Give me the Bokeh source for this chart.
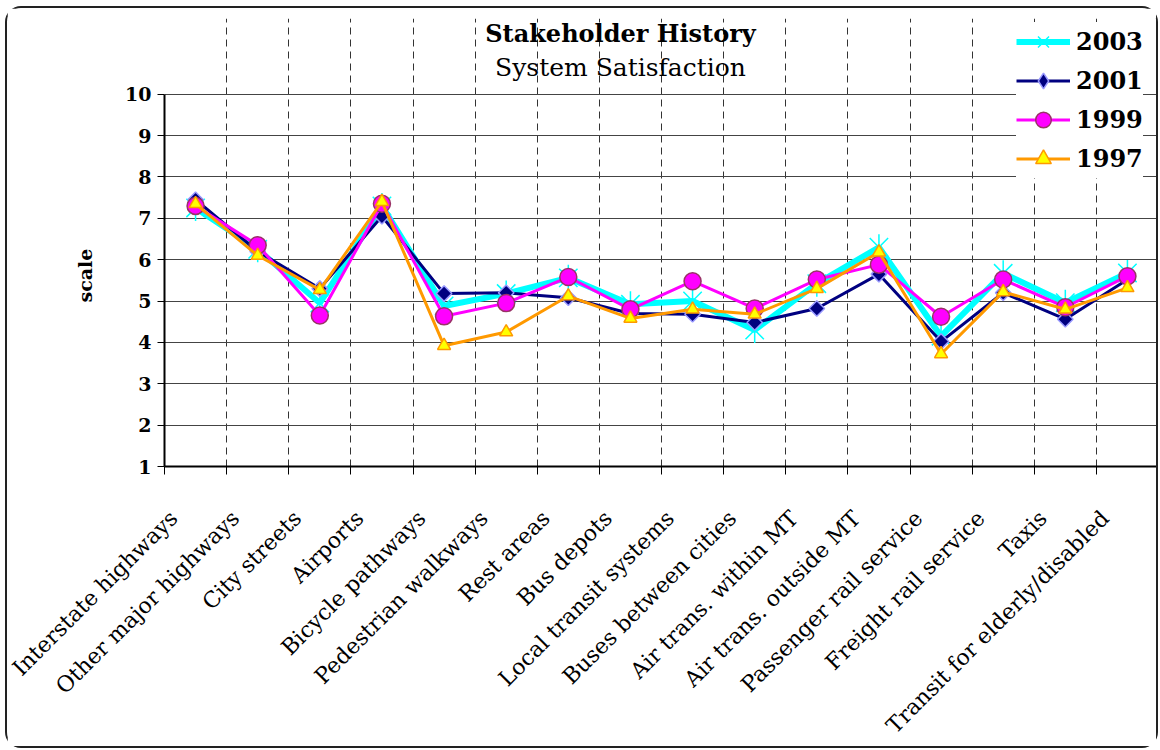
import numpy as np
from bokeh.plotting import figure
from bokeh.models import Range1d, FixedTicker, Legend, LegendItem, Label, Grid, Title
from bokeh.embed import file_html
from bokeh.resources import INLINE

categories = ["Interstate highways", "Other major highways", "City streets", "Airports",
              "Bicycle pathways", "Pedestrian walkways", "Rest areas", "Bus depots",
              "Local transit systems", "Buses between cities", "Air trans. within MT",
              "Air trans. outside MT", "Passenger rail service", "Freight rail service",
              "Taxis", "Transit for elderly/disabled"]

s2003 = [7.25, 6.25, 4.95, 7.30, 4.88, 5.18, 5.56, 4.92, 5.00, 4.30, 5.42, 6.30, 4.15, 5.67, 4.96, 5.68]
s2001 = [7.45, 6.20, 5.30, 7.05, 5.18, 5.20, 5.08, 4.70, 4.68, 4.48, 4.82, 5.65, 4.02, 5.20, 4.56, 5.52]
s1999 = [7.30, 6.35, 4.65, 7.35, 4.63, 4.95, 5.58, 4.80, 5.48, 4.82, 5.52, 5.88, 4.62, 5.52, 4.85, 5.60]
s1997 = [7.35, 6.10, 5.27, 7.40, 3.92, 4.25, 5.12, 4.58, 4.80, 4.68, 5.30, 6.18, 3.72, 5.22, 4.80, 5.32]

y_ticks = list(range(1, 11))
y_min, y_max = 1, 10

SERIF = "DejaVu Serif"
n = len(categories)
x = np.arange(n) + 0.5

# frame extends above the value 10 so the legend (which overlaps the plot top) is not clipped
p = figure(width=1153, height=742, x_range=Range1d(0, n), y_range=Range1d(y_min, 11.83),
           output_backend="svg", toolbar_location=None,
           min_border_left=157, min_border_right=2, min_border_top=10, min_border_bottom=272,
           background_fill_color="white", border_fill_color="white")
p.styles = {"border": "2px solid #222222", "border-radius": "16px",
            "margin-left": "5px", "margin-top": "6px"}
p.outline_line_color = None

# titles
p.add_layout(Label(x=456, y=433, x_units="screen", y_units="screen", text="Stakeholder History",
                   text_align="center", text_baseline="middle", text_font=SERIF,
                   text_font_size="24px", text_font_style="bold", text_color="black"))
p.add_layout(Label(x=456, y=399, x_units="screen", y_units="screen", text="System Satisfaction",
                   text_align="center", text_baseline="middle", text_font=SERIF,
                   text_font_size="25px", text_font_style="normal", text_color="black"))

# x axis: labels slightly left of centres, tick marks at category boundaries
label_pos = [float(v) for v in (x - 0.36)]
p.xaxis.ticker = FixedTicker(ticks=label_pos, minor_ticks=list(range(n + 1)))
p.xaxis.major_label_overrides = {t: c for t, c in zip(label_pos, categories)}
p.xaxis.major_label_orientation = np.pi / 4
p.xaxis.major_tick_line_color = None
p.xaxis.major_tick_out = 0
p.xaxis.major_tick_in = 0
p.xaxis.minor_tick_out = 8
p.xaxis.minor_tick_in = 0
p.xaxis.minor_tick_line_color = "black"
p.xaxis.minor_tick_line_width = 1
p.xaxis.axis_line_width = 2
p.xaxis.axis_line_color = "black"
p.xaxis.major_label_standoff = 40
p.xaxis.major_label_text_font = SERIF
p.xaxis.major_label_text_font_size = "22px"
p.xaxis.major_label_text_color = "black"

# y axis
p.yaxis.ticker = FixedTicker(ticks=y_ticks)
p.yaxis.bounds = (y_min, y_max)
p.yaxis.minor_tick_line_color = None
p.yaxis.major_tick_out = 7
p.yaxis.major_tick_in = 0
p.yaxis.major_tick_line_color = "black"
p.yaxis.axis_line_width = 2
p.yaxis.axis_line_color = "black"
p.yaxis.major_label_text_font = SERIF
p.yaxis.major_label_text_font_style = "bold"
p.yaxis.major_label_text_font_size = "19px"
p.yaxis.major_label_text_color = "black"
p.yaxis.major_label_standoff = 6

# y axis title, placed on the 1..10 span rather than the centre of the taller frame
ytitle = Title(text="scale", align="left", offset=164, standoff=54,
               text_font=SERIF, text_font_style="bold", text_font_size="19px",
               text_color="black")
p.add_layout(ytitle, "left")

# grids
p.xgrid.ticker = FixedTicker(ticks=list(range(1, n)))
p.xgrid.bounds = (y_min, y_max)
p.xgrid.grid_line_color = "#333333"
p.xgrid.grid_line_dash = "7 5"
p.xgrid.grid_line_width = 1
p.ygrid.ticker = FixedTicker(ticks=y_ticks)
p.ygrid.grid_line_color = "#444444"
p.ygrid.grid_line_width = 1
edge = Grid(dimension=0, ticker=FixedTicker(ticks=[n]), bounds=(y_min, y_max),
            grid_line_color="#888888", grid_line_width=2)
p.add_layout(edge)

items = []
# 2003
l03 = p.line(x, s2003, line_color="#00FFFF", line_width=6)
m03a = p.scatter(x, s2003, marker="x", size=26, line_color="#00FFFF", line_width=1.5)
m03b = p.scatter(x, s2003, marker="dash", angle=np.pi / 2, size=26, line_color="#00FFFF", line_width=1.5)
items.append(LegendItem(label="2003", renderers=[l03, m03a, m03b]))
# 2001 (a small 'diamond' hidden under the rotated squares gives the legend its diamond)
l01 = p.line(x, s2001, line_color="#000080", line_width=3)
m01k = p.scatter(x, s2001, marker="diamond", size=13,
                 fill_color="#000080", line_color="#9999FF", line_width=1.5)
m01 = p.scatter(x, s2001, marker="square", angle=np.pi / 4, size=11,
                fill_color="#000080", line_color="#9999FF", line_width=1.5)
items.append(LegendItem(label="2001", renderers=[l01, m01k]))
# 1999
l99 = p.line(x, s1999, line_color="#FF00FF", line_width=3)
m99 = p.scatter(x, s1999, marker="circle", size=17,
                fill_color="#FF00FF", line_color="#993366", line_width=1.5)
items.append(LegendItem(label="1999", renderers=[l99, m99]))
# 1997
l97 = p.line(x, s1997, line_color="#FF9900", line_width=3)
m97 = p.scatter(x, s1997, marker="triangle", size=13,
                fill_color="#FFFF00", line_color="#FF9900", line_width=1.5)
items.append(LegendItem(label="1997", renderers=[l97, m97]))

legend = Legend(items=items, location=(852, 288), orientation="vertical",
                glyph_width=54, glyph_height=39, label_height=30, spacing=0,
                padding=6, margin=0, label_standoff=6,
                label_text_font=SERIF, label_text_font_style="bold",
                label_text_font_size="24px", label_text_color="black",
                background_fill_color="white", background_fill_alpha=1.0,
                border_line_color=None)
p.add_layout(legend)

open("out.html", "w").write(file_html(p, INLINE))
